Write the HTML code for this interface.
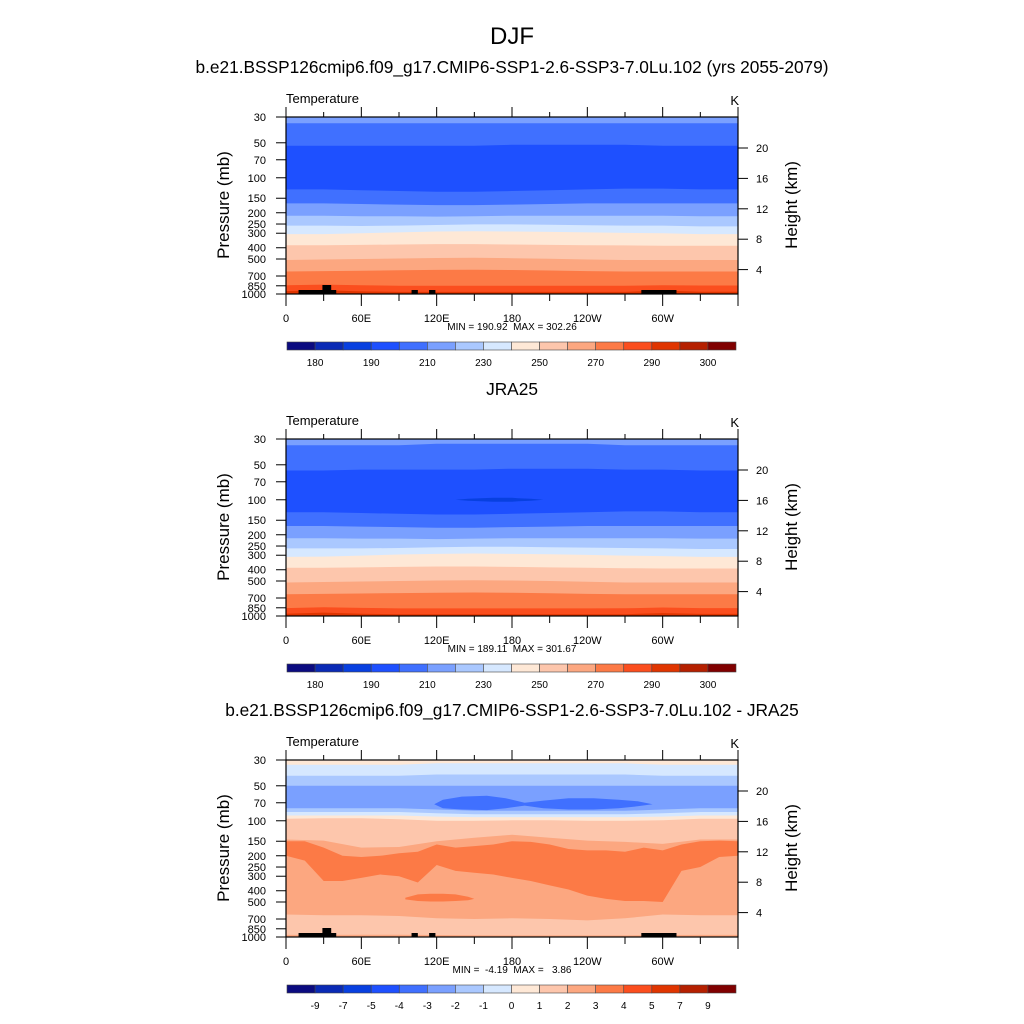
<!DOCTYPE html>
<html><head><meta charset="utf-8"><style>
html,body{margin:0;padding:0;background:#fff;}
svg{display:block;font-family:"Liberation Sans",sans-serif;}
</style></head><body>
<svg id="c" width="1024" height="1024" viewBox="0 0 1024 1024">
<text x="512" y="44" font-size="24" text-anchor="middle">DJF</text>
</svg>
<script>
const palette=["#0b0b80","#0a2ab5","#0840e0","#1e50ff","#4070ff","#7aa0ff","#aac8ff","#d6e8ff","#fee8d6","#fdc6ac","#fca780","#fc7a46","#fb4e1e","#e03500","#b52000","#800000"];
const lonSamples=[0,30,60,90,120,150,180,210,240,270,300,330,360];
const pressureTicks=[30,50,70,100,150,200,250,300,400,500,700,850,1000];
const heightTicks=[4,8,12,16,20];
const lonTicks=[0,60,120,180,240,300];
const lonLabels=["0","60E","120E","180","120W","60W"];
const absLabels=["180","","190","","210","","230","","250","","270","","290","","300"];
const diffLabels=["-9","-7","-5","-4","-3","-2","-1","0","1","2","3","4","5","7","9"];
const modelBands=[
 {c:5,p:[30,30,30,30,30,30,30,30,30,30,30,30,30]},
 {c:4,p:[34,34,34,34,34,34,34,34,34,34,34,34,34]},
 {c:3,p:[53,53,53,53,53,53,52,52,52,52,53,53,53]},
 {c:4,p:[126,126,128,130,132,132,130,128,126,124,124,126,126]},
 {c:5,p:[166,166,168,170,172,172,170,168,166,166,166,166,166]},
 {c:6,p:[212,212,214,214,216,214,212,212,212,212,212,214,214]},
 {c:7,p:[258,258,260,258,255,252,252,254,256,258,258,262,262]},
 {c:8,p:[305,305,300,295,290,288,290,292,295,298,300,305,305]},
 {c:9,p:[380,380,378,375,372,372,375,378,380,382,385,385,385]},
 {c:10,p:[510,505,500,495,490,488,492,498,505,510,510,510,510]},
 {c:11,p:[640,635,630,625,620,618,622,628,635,640,640,640,640]},
 {c:12,p:[840,830,840,850,850,850,850,850,850,850,840,845,845]},
 {c:13,p:[945,930,950,960,960,960,960,960,960,960,935,955,955]}
];
const obsBands=[
 {c:5,p:[30,30,30,30,30,30,30,30,30,30,30,30,30]},
 {c:4,p:[34,34,34,34,33,33,33,33,33,34,34,34,34]},
 {c:3,p:[56,56,55,55,55,55,54,54,54,55,55,56,56]},
 {c:4,p:[128,128,130,132,134,134,132,130,128,126,126,128,128]},
 {c:5,p:[168,168,170,172,174,174,172,170,168,168,168,168,168]},
 {c:6,p:[214,214,216,216,218,216,214,214,214,214,214,216,216]},
 {c:7,p:[262,262,262,260,256,254,254,256,258,260,262,265,265]},
 {c:8,p:[310,308,302,296,292,290,292,294,298,302,305,310,310]},
 {c:9,p:[385,385,382,378,375,375,378,382,385,388,390,390,390]},
 {c:10,p:[515,510,505,500,495,492,495,500,508,515,515,515,515]},
 {c:11,p:[650,645,640,635,630,628,632,638,645,650,650,650,650]},
 {c:12,p:[855,840,852,860,860,860,860,860,860,858,845,855,855]},
 {c:13,p:[955,935,955,965,965,965,965,965,965,965,945,960,960]}
];
const obsCold={c:2,lon:[135,145,155,165,175,180,185,195,205],top:[100,98,97,96,96,96,97,98,100],bot:[100,102,103,104,104,104,103,102,100]};
const diffBands=[
 {c:8,p:[30,30,30,30,30,30,30,30,30,30,30,30,30]},
 {c:7,p:[33,33,33,33,32,32,32,32,32,32,33,33,33]},
 {c:6,p:[41,41,41,41,40,40,40,40,40,40,41,41,41]},
 {c:5,p:[50,50,50,50,50,50,50,50,50,50,50,50,50]},
 {c:6,p:[78,78,78,78,80,82,82,82,82,82,80,78,78]},
 {c:7,p:[84,84,84,84,86,88,88,88,88,88,86,84,84]},
 {c:8,p:[90,90,90,90,92,93,93,93,93,93,92,90,90]},
 {c:9,p:[96,95,95,97,100,100,99,99,100,100,99,96,96]},
 {c:10,p:[145,148,170,168,150,140,132,140,148,152,158,145,145]},
 {c:9,p:[640,650,650,660,690,700,690,700,720,690,640,650,650]},
 {c:10,p:[960,960,955,958,962,965,968,968,968,968,962,960,960]}
];
const diffWarm={c:11,lon:[0,15,30,45,60,75,90,105,120,135,150,165,180,195,210,225,240,255,270,285,300,315,330,345,360],
 top:[150,150,170,200,205,200,190,185,160,170,165,160,150,152,160,175,180,180,185,170,180,160,150,148,150],
 bot:[200,220,330,330,310,290,300,340,240,270,280,290,310,330,360,390,440,470,490,490,500,270,250,205,200]};
const diffWarm2={c:11,lon:[95,105,115,125,135,145,150],top:[460,430,425,425,430,450,470],bot:[475,490,495,495,490,482,470]};
const diffBlue={c:4,lon:[118,125,140,160,175,190,205,225,245,265,280,292],top:[72,66,62,61,64,70,67,64,64,66,68,72],bot:[72,78,80,81,78,74,78,80,80,78,75,72]};

const NS="http://www.w3.org/2000/svg";
const svg=document.getElementById('c');
const X0=286,X1=738,PH=177;
function xs(lon){return X0+lon/360*(X1-X0);}
function ys(p,y0){return y0+Math.log10(p/30)/Math.log10(1000/30)*PH;}
function hz(z,y0){return y0+31+(20-z)*7.6;}
function mk(tag,attrs,parent){const e=document.createElementNS(NS,tag);for(const k in attrs)e.setAttribute(k,attrs[k]);(parent||svg).appendChild(e);return e;}
function txt(s,x,y,size,anchor,parent){const t=mk('text',{x:x,y:y,'font-size':size,'text-anchor':anchor||'start'},parent);t.textContent=s;return t;}

function bandPath(b,y0){let d="M"+xs(0)+","+(y0+PH);lonSamples.forEach((l,i)=>{d+=" L"+xs(l).toFixed(1)+","+ys(b.p[i],y0).toFixed(1);});d+=" L"+xs(360)+","+(y0+PH)+" Z";return d;}
function blobPath(b,y0){let d="";b.lon.forEach((l,i)=>{d+=(i?" L":"M")+xs(l).toFixed(1)+","+ys(b.top[i],y0).toFixed(1);});for(let i=b.lon.length-1;i>=0;i--)d+=" L"+xs(b.lon[i]).toFixed(1)+","+ys(b.bot[i],y0).toFixed(1);return d+" Z";}

function panel(name,y0,subtitle,bands,blobs,labels,minmax,topo){
 const g=mk('g',{},svg);
 
 
 const t=txt(subtitle,512,y0-44,17.3,'middle',g);
 
 
 const cp=mk('clipPath',{id:'cl'+y0},g);
 mk('rect',{x:X0,y:y0,width:X1-X0,height:PH},cp);
 const fg=mk('g',{'clip-path':'url(#cl'+y0+')'},g);
 
 
 bands.forEach(b=>{const p=mk('path',{d:bandPath(b,y0),fill:palette[b.c]},fg);});
 blobs.forEach(b=>{const p=mk('path',{d:blobPath(b,y0),fill:palette[b.c]},fg);});
 if(topo){[[10,40,4],[29,36,9],[100,105,4],[114,119,4],[283,311,4]].forEach(r=>{const e=mk('rect',{x:xs(r[0]),y:y0+PH-r[2],width:xs(r[1])-xs(r[0]),height:r[2],fill:'#000'},fg);});}
 const fr=mk('rect',{x:X0,y:y0,width:X1-X0,height:PH,fill:'none',stroke:'#000','stroke-width':1.2},g);
 
 for(let l=0;l<=360;l+=30){const len=(l%60===0)?10:5;mk('line',{x1:xs(l),x2:xs(l),y1:y0,y2:y0-len,stroke:'#000'},g);mk('line',{x1:xs(l),x2:xs(l),y1:y0+PH,y2:y0+PH+len+2,stroke:'#000'},g);}
 lonTicks.forEach((l,i)=>{const e=txt(lonLabels[i],xs(l),y0+PH+28,11,'middle',g);});
 pressureTicks.forEach(p=>{const y=ys(p,y0);mk('line',{x1:X0,x2:X0-10,y1:y,y2:y,stroke:'#000'},g);const e=txt(String(p),266,y+4,11,'end',g);});
 heightTicks.forEach(z=>{const y=hz(z,y0);mk('line',{x1:X1,x2:X1+10,y1:y,y2:y,stroke:'#000'},g);const e=txt(String(z),756,y+4,11,'start',g);});
 const yt=txt('Pressure (mb)',0,0,17,'middle',g);yt.setAttribute('transform','translate(229,'+(y0+88)+') rotate(-90)');
 const ht=txt('Height (km)',0,0,17,'middle',g);ht.setAttribute('transform','translate(797,'+(y0+88)+') rotate(-90)');
 const vt=txt('Temperature',286,y0-14,13,'start',g);
 const ut=txt('K',739,y0-12,13,'end',g);
 const mm=txt(minmax,512,y0+213,10,'middle',g);mm.style.whiteSpace='pre';
 const cb=mk('g',{},g);
 const cy=y0+225,cw=(736-287)/16;
 palette.forEach((c,i)=>{const r=mk('rect',{x:287+i*cw,y:cy,width:cw,height:8,fill:c,stroke:'#444','stroke-width':0.6},cb);});
 labels.forEach((s,i)=>{if(!s)return;const e=txt(s,287+(i+1)*cw,cy+24,10,'middle',cb);});
}
panel('model-panel',117,'b.e21.BSSP126cmip6.f09_g17.CMIP6-SSP1-2.6-SSP3-7.0Lu.102 (yrs 2055-2079)',modelBands,[],absLabels,'MIN = 190.92  MAX = 302.26',true);
panel('obs-panel',439,'JRA25',obsBands,[obsCold],absLabels,'MIN = 189.11  MAX = 301.67',false);
panel('diff-panel',760,'b.e21.BSSP126cmip6.f09_g17.CMIP6-SSP1-2.6-SSP3-7.0Lu.102 - JRA25',diffBands,[diffWarm,diffWarm2,diffBlue],diffLabels,'MIN =  -4.19  MAX =   3.86',true);
</script>
</body></html>
